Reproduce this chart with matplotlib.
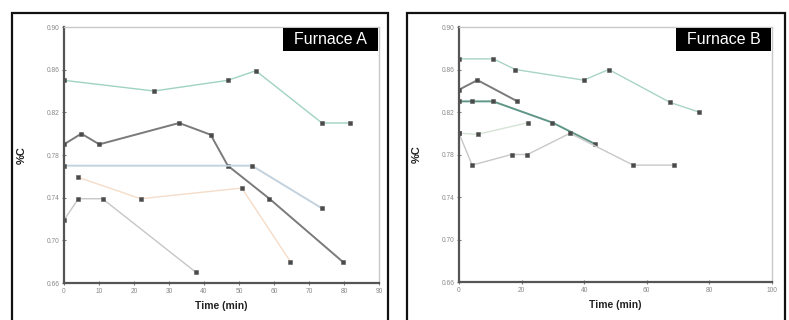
import matplotlib
matplotlib.use("Agg")
import matplotlib.pyplot as plt
from matplotlib.patches import Rectangle

plt.rcParams['font.family'] = ['Liberation Sans', 'DejaVu Sans']

# ---- data: Furnace A ----
a1_x = [0, 25.7, 46.8, 54.8, 73.7, 81.8]
a1_y = [0.850, 0.840, 0.850, 0.859, 0.810, 0.810]
a2_x = [0, 4.95, 10.1, 32.9, 41.9, 46.8, 58.7, 79.6]
a2_y = [0.790, 0.800, 0.790, 0.810, 0.799, 0.770, 0.739, 0.680]
a3_x = [0, 53.7, 73.7]
a3_y = [0.770, 0.770, 0.730]
a4_x = [4.1, 21.9, 50.8, 64.7]
a4_y = [0.759, 0.739, 0.749, 0.680]
a5_x = [0, 4.1, 11.0, 37.7]
a5_y = [0.719, 0.739, 0.739, 0.670]

# ---- data: Furnace B ----
b1_x = [0, 11.0, 18.0, 39.9, 47.9, 67.5, 76.7]
b1_y = [0.870, 0.870, 0.860, 0.850, 0.860, 0.829, 0.820]
b2_x = [0, 5.9, 18.7]
b2_y = [0.841, 0.850, 0.830]
b3_x = [0, 4.2, 10.9, 29.9, 43.4]
b3_y = [0.830, 0.830, 0.830, 0.810, 0.790]
b4_x = [0, 6.0, 22.1]
b4_y = [0.800, 0.799, 0.810]
b5_x = [0, 4.2, 16.8, 21.9, 35.5, 55.7, 68.8]
b5_y = [0.800, 0.770, 0.780, 0.780, 0.800, 0.770, 0.770]

y_ticks = [0.66, 0.70, 0.74, 0.78, 0.82, 0.86, 0.90]
a_xticks = [0, 10, 20, 30, 40, 50, 60, 70, 80, 90]
b_xticks = [0, 20, 40, 60, 80, 100]

fig = plt.figure(figsize=(7.89, 3.2), dpi=100)
W, H = 789, 320

# outer frames
for x0, x1 in [(12, 388), (407, 785)]:
    fig.patches.append(Rectangle((x0 / W, -0.05), (x1 - x0) / W, 1 - 13 / H + 0.05,
                                 transform=fig.transFigure, fill=False,
                                 edgecolor='#111111', linewidth=1.6))

axA = fig.add_axes([64 / W, (H - 283) / H, 315 / W, 256 / H])
axB = fig.add_axes([459 / W, (H - 282) / H, 312.7 / W, 255 / H])

mk = dict(marker='s', markersize=2.6, markerfacecolor='#4a4a4a', markeredgecolor='#5a5a5a',
          markeredgewidth=0.4)

axA.plot(a1_x, a1_y, color='#9fd2c2', lw=1.0, **mk)
axA.plot(a2_x, a2_y, color='#7a7a7a', lw=1.4, **mk)
axA.plot(a3_x, a3_y, color='#c2d2de', lw=1.4, **mk)
axA.plot(a4_x, a4_y, color='#f5dcc8', lw=1.0, **mk)
axA.plot(a5_x, a5_y, color='#c6c6c6', lw=1.0, **mk)

axB.plot(b1_x, b1_y, color='#a8d4c6', lw=1.0, **mk)
axB.plot(b2_x, b2_y, color='#7a7a7a', lw=1.4, **mk)
axB.plot(b3_x, b3_y, color='#5f9688', lw=1.4, **mk)
axB.plot(b4_x, b4_y, color='#d5e4d5', lw=1.0, **mk)
axB.plot(b5_x, b5_y, color='#c8c8c8', lw=1.0, **mk)

for ax, xt, title in [(axA, a_xticks, 'Furnace A'), (axB, b_xticks, 'Furnace B')]:
    ax.set_xlim(xt[0], xt[-1])
    ax.set_ylim(0.66, 0.90)
    ax.set_xticks(xt)
    ax.set_yticks(y_ticks)
    ax.set_xticklabels([str(v) for v in xt])
    ax.set_yticklabels([f'{v:.2f}' for v in y_ticks])
    ax.tick_params(axis='both', labelsize=4.8, labelcolor='#888888', color='#777777',
                   length=2.5, width=0.8, direction='inout', pad=2)
    for s in ['left', 'bottom']:
        ax.spines[s].set_color('#555555')
        ax.spines[s].set_linewidth(1.6)
    for s in ['top', 'right']:
        ax.spines[s].set_color('#c8c8c8')
        ax.spines[s].set_linewidth(1.0)
    ax.set_ylabel('%C', fontsize=8, fontweight='bold', color='#222222', labelpad=14)
    ax.set_xlabel('Time (min)', fontsize=7.5, fontweight='bold', color='#222222', labelpad=5)
    ax.add_patch(Rectangle((0.695, 0.906), 0.302, 0.090, transform=ax.transAxes,
                           facecolor='black', edgecolor='none', zorder=5))
    ax.text(0.846, 0.951, title, transform=ax.transAxes, ha='center', va='center',
            color='white', fontsize=11.5, zorder=6)

fig.savefig('out.png', dpi=100)
